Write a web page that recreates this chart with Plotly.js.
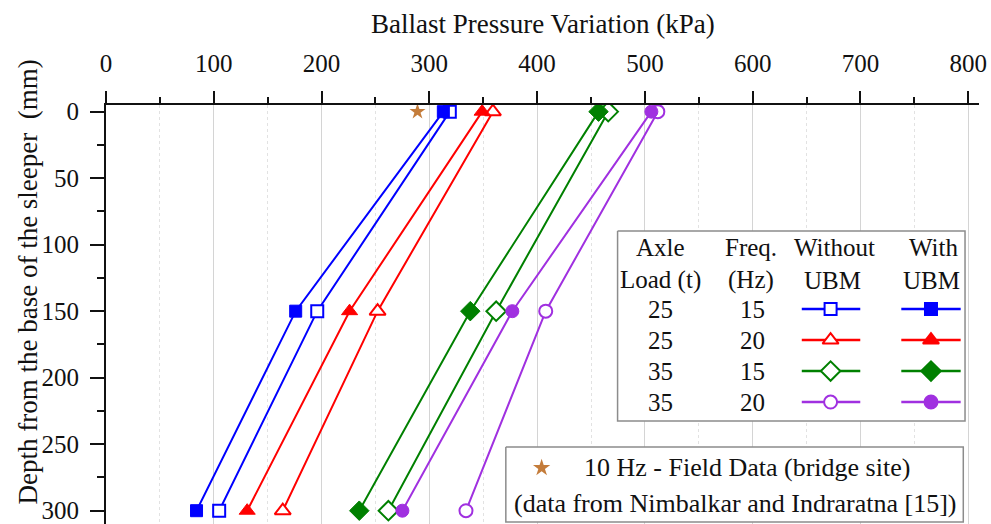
<!DOCTYPE html>
<html>
<head>
<meta charset="utf-8">
<script src="https://cdn.plot.ly/plotly-3.0.1.min.js"></script>
<style>
  html, body { margin: 0; padding: 0; background: #ffffff; }
  #chart { width: 991px; height: 524px; }
</style>
</head>
<body>
<div id="chart"></div>
<script>
// Depth below the sleeper base (mm)
const depth = [0, 150, 300];

// Ballast pressure variation (kPa) without under-ballast mat (UBM)
const without_25t_15Hz = [319, 196, 105];
const without_25t_20Hz = [359, 252, 164];
const without_35t_15Hz = [466, 362, 262];
const without_35t_20Hz = [512, 408, 334];

// Ballast pressure variation (kPa) with UBM
const with_25t_15Hz = [313, 176, 84];
const with_25t_20Hz = [349, 226, 131];
const with_35t_15Hz = [457, 338, 235];
const with_35t_20Hz = [506, 377, 275];

// Field measurement at 10 Hz (bridge site)
const fieldPressure = [289];
const fieldDepth = [0];

// Legend table rows
const rowAxleLoad = ['25', '25', '35', '35'];
const rowFreq = ['15', '20', '15', '20'];
const rowColors = ['#0000ff', '#ff0000', '#008000', '#a030e0'];
const rowSymbols = ['square', 'triangle-up', 'diamond', 'circle'];
const rowSizes = [12, 14, 15, 13];

const FONT = 'Liberation Serif, Tinos, Times, DejaVu Serif, serif';
const starColor = '#c47c3a';

const seriesWithout = [without_25t_15Hz, without_25t_20Hz, without_35t_15Hz, without_35t_20Hz];
const seriesWith = [with_25t_15Hz, with_25t_20Hz, with_35t_15Hz, with_35t_20Hz];

const traces = [];
for (let i = 0; i < 4; i++) {
  traces.push({
    x: seriesWithout[i], y: depth, mode: 'lines+markers', type: 'scatter',
    line: {color: rowColors[i], width: 2},
    marker: {symbol: rowSymbols[i], size: rowSizes[i], color: '#ffffff',
             line: {color: rowColors[i], width: 2}},
    showlegend: false, hoverinfo: 'skip'
  });
  traces.push({
    x: seriesWith[i], y: depth, mode: 'lines+markers', type: 'scatter',
    line: {color: rowColors[i], width: 2},
    marker: {symbol: rowSymbols[i], size: rowSizes[i], color: rowColors[i],
             line: {color: rowColors[i], width: 1}},
    showlegend: false, hoverinfo: 'skip'
  });
}
traces.push({
  x: fieldPressure, y: fieldDepth, mode: 'markers', type: 'scatter',
  marker: {symbol: 'star', size: 12, color: starColor, line: {width: 0}},
  showlegend: false, hoverinfo: 'skip'
});

// Legend panels live on an overlay axis pair measured in percent of the plot area.
// White filled outlines sit above the grid and below the legend samples.
const legendBoxes = [
  {x: [58.6, 98.4], y: [30.1, 75.4]},
  {x: [45.8, 98.2], y: [81.6, 99.5]}
];
legendBoxes.forEach(b => {
  traces.push({
    x: [b.x[0], b.x[1], b.x[1], b.x[0], b.x[0]],
    y: [b.y[0], b.y[0], b.y[1], b.y[1], b.y[0]],
    xaxis: 'x2', yaxis: 'y2', mode: 'lines', fill: 'toself', fillcolor: '#ffffff',
    line: {color: '#8c8c8c', width: 1.5}, showlegend: false, hoverinfo: 'skip'
  });
});

const rowY = [48.7, 56.1, 63.5, 70.9];
const withoutSpan = [79.7, 86.4], withoutMid = 83.0;
const withSpan = [91.1, 97.9], withMid = 94.5;

for (let i = 0; i < 4; i++) {
  [[withoutSpan, withoutMid, '#ffffff'], [withSpan, withMid, rowColors[i]]].forEach(([span, mid, fill]) => {
    traces.push({
      x: span, y: [rowY[i], rowY[i]], xaxis: 'x2', yaxis: 'y2', mode: 'lines',
      line: {color: rowColors[i], width: 2.5}, showlegend: false, hoverinfo: 'skip'
    });
    traces.push({
      x: [mid], y: [rowY[i]], xaxis: 'x2', yaxis: 'y2', mode: 'markers',
      marker: {symbol: rowSymbols[i], size: rowSizes[i], color: fill,
               line: {color: rowColors[i], width: 2}},
      showlegend: false, hoverinfo: 'skip'
    });
  });
}
traces.push({
  x: [49.9], y: [86.6], xaxis: 'x2', yaxis: 'y2', mode: 'markers',
  marker: {symbol: 'star', size: 13, color: starColor, line: {width: 0}},
  showlegend: false, hoverinfo: 'skip'
});

const legendText = (text, x, y, size) => ({
  text: text, x: x, y: y, xref: 'x2', yref: 'y2', showarrow: false,
  xanchor: 'center', yanchor: 'middle', font: {family: FONT, size: size || 25, color: '#111111'}
});

const annotations = [
  {text: 'Ballast Pressure Variation (kPa)', xref: 'paper', yref: 'paper', x: 0.5, y: 1.193,
   xanchor: 'center', yanchor: 'middle', showarrow: false,
   font: {family: FONT, size: 27, color: '#111111'}},
  {text: 'Depth from the base of the sleeper  (mm)', xref: 'paper', yref: 'paper', x: -0.089, y: 0.577,
   xanchor: 'center', yanchor: 'middle', showarrow: false, textangle: -90,
   font: {family: FONT, size: 27, color: '#111111'}},
  legendText('Axle', 63.5, 34.1), legendText('Load (t)', 63.5, 41.8),
  legendText('Freq.', 73.9, 34.1), legendText('(Hz)', 73.9, 41.8),
  legendText('Without', 83.5, 34.1), legendText('UBM', 83.2, 41.8),
  legendText('With', 94.8, 34.1), legendText('UBM', 94.6, 41.8),
  legendText('10 Hz - Field Data (bridge site)', 73.4, 86.6, 26),
  legendText('(data from Nimbalkar and Indraratna [15])', 72.1, 95.0, 26)
];
for (let i = 0; i < 4; i++) {
  annotations.push(legendText(rowAxleLoad[i], 63.5, rowY[i]));
  annotations.push(legendText(rowFreq[i], 74.1, rowY[i]));
}

const layout = {
  width: 991, height: 524,
  margin: {l: 106, r: 12, t: 105, b: 0},
  paper_bgcolor: '#ffffff', plot_bgcolor: '#ffffff',
  showlegend: false,
  font: {family: FONT, color: '#111111'},
  xaxis: {
    side: 'top', range: [0, 810], dtick: 100, tick0: 0,
    showline: true, linecolor: '#111111', linewidth: 2,
    ticks: 'outside', ticklen: 12, tickwidth: 2, tickcolor: '#111111',
    ticklabelstandoff: 9, ticklabeloverflow: 'allow',
    showgrid: true, gridcolor: '#d4d4d4', gridwidth: 1, zeroline: false,
    tickfont: {family: FONT, size: 25, color: '#111111'},
    minor: {dtick: 50, ticks: 'outside', ticklen: 6, tickwidth: 2, tickcolor: '#111111',
            showgrid: true, gridcolor: '#e2e2e2', griddash: 'dot', gridwidth: 1}
  },
  yaxis: {
    range: [310, -5], dtick: 50, tick0: 0,
    showline: true, linecolor: '#111111', linewidth: 2,
    ticks: 'outside', ticklen: 14, tickwidth: 2, tickcolor: '#111111',
    ticklabelstandoff: 6, ticklabeloverflow: 'allow',
    showgrid: false, zeroline: false,
    tickfont: {family: FONT, size: 25, color: '#111111'},
    minor: {dtick: 25, ticks: 'outside', ticklen: 7, tickwidth: 2, tickcolor: '#111111', showgrid: false}
  },
  xaxis2: {overlaying: 'x', range: [0, 100], visible: false, fixedrange: true},
  yaxis2: {overlaying: 'y', range: [100, 0], visible: false, fixedrange: true},
  annotations: annotations
};

Plotly.newPlot('chart', traces, layout, {staticPlot: true, displayModeBar: false});
</script>
</body>
</html>
